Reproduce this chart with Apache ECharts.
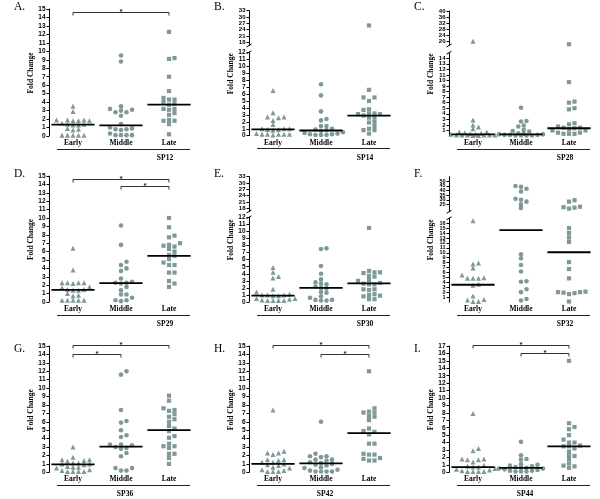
<!DOCTYPE html>
<html><head><meta charset="utf-8">
<script src="https://cdn.jsdelivr.net/npm/echarts@6/dist/echarts.min.js"></script>
<style>html,body{margin:0;padding:0;background:#fff}#c{width:600px;height:499px}</style>
</head><body><div id="c"></div>
<script>
// ---------- DATA ----------
const categories = ['Early', 'Middle', 'Late'];
const panelLetters = ['A.', 'B.', 'C.', 'D.', 'E.', 'F.', 'G.', 'H.', 'I.'];
const panelNames = ['SP12', 'SP14', 'SP28', 'SP29', 'SP30', 'SP32', 'SP36', 'SP42', 'SP44'];
const yTitle = 'Fold Change';

const ticks0to15 = [0,1,2,3,4,5,6,7,8,9,10,11,12,13,14,15];
const ticks0to12 = [0,1,2,3,4,5,6,7,8,9,10,11,12];
const ticks0to17 = [0,1,2,3,4,5,6,7,8,9,10,11,12,13,14,15,16,17];
const sp14UpperTicks = [18,21,24,27,30,33];
const sp28UpperTicks = [20,24,28,32,36,40];
const sp30UpperTicks = [18,21,24,27,30,33];
const sp32UpperTicks = [20,25,30,35,40,45,50,55];

const sp12Early  = [3.5,2.9,1.9,1.9,1.8,1.8,1.8,1.9,1.4,1.3,1.5,1.3,1.4,0.9,0.8,0.7,0.1,0.1,0.1,0.1,0.1];
const sp12Middle = [9.5,8.8,3.5,3.2,3.1,3.0,2.8,2.8,2.4,1.4,1.0,0.9,0.8,0.8,0.7,0.3,0.1,0.1,0.1,0.1];
const sp12Late   = [12.3,9.2,9.1,7.0,5.3,4.5,4.3,4.3,4.0,3.8,3.7,3.2,3.2,3.1,2.7,2.5,1.9,1.8,1.8,1.4,0.2];
const sp12Median = [1.35,1.25,3.7];
const sp12Sig    = [[0,2,14.7]];

const sp14Early  = [6.5,3.3,2.7,2.7,2.6,2.2,1.6,1.0,1.0,1.0,0.9,0.9,0.8,0.3,0.2,0.2,0.2,0.2,0.2,0.1];
const sp14Middle = [7.4,5.8,3.5,2.4,2.2,1.4,1.4,1.0,0.9,0.8,0.7,0.5,0.4,0.3,0.2,0.2,0.1,0.1,0.1];
const sp14Late   = [26,6.6,5.5,5.5,5.0,3.8,3.7,3.2,3.2,3.1,3.1,2.9,2.6,2.6,2.0,1.9,1.4,1.0,0.8,0.8,0.3];
const sp14Median = [0.9,0.75,2.9];
const sp14Sig    = [];

const sp28Early  = [20.3,2.9,2.0,1.6,1.3,0.7,0.7,0.6,0.5,0.4,0.3,0.3,0.2,0.2,0.2,0.2,0.2,0.2,0.1,0.1];
const sp28Middle = [5.1,2.7,2.6,1.9,1.7,1.1,0.9,0.8,0.5,0.4,0.3,0.3,0.2,0.2,0.2,0.1,0.1,0.1,0.1];
const sp28Late   = [18.3,9.7,6.2,6.0,5.0,4.8,2.3,2.1,1.7,1.5,1.5,1.4,1.2,1.0,1.0,0.6,0.6,0.4,0.4,0.4];
const sp28Median = [0.3,0.3,1.4];
const sp28Sig    = [];

const sp29Early  = [6.4,3.8,2.3,2.3,2.3,2.3,2.2,1.8,1.7,1.5,1.5,1.4,1.4,1.0,0.8,0.7,0.2,0.2,0.2,0.2,0.2];
const sp29Middle = [9.1,6.8,4.8,4.4,4.0,3.7,2.8,2.4,2.3,2.3,2.2,1.8,1.4,0.9,0.9,0.5,0.2,0.2,0.1];
const sp29Late   = [10.0,8.9,7.9,7.7,7.0,6.8,6.7,6.6,6.3,6.0,5.6,5.5,5.1,4.7,4.4,4.4,3.5,3.5,2.5,2.2,1.8];
const sp29Median = [1.45,2.25,5.5];
const sp29Sig    = [[0,2,14.7],[1,2,13.8]];

const sp30Early  = [4.9,4.2,3.6,3.4,1.8,1.4,1.1,1.0,1.0,1.0,0.9,0.9,0.5,0.5,0.4,0.3,0.2,0.2,0.2,0.2];
const sp30Middle = [7.6,7.5,5.1,4.0,3.2,2.8,2.6,2.5,2.2,2.0,1.9,1.4,1.3,0.8,0.6,0.3,0.3,0.2,0.2];
const sp30Late   = [10.5,4.4,4.2,4.2,4.1,3.7,3.6,3.1,3.0,2.7,2.6,2.5,2.5,1.8,1.8,1.7,1.1,1.0,0.9,0.8,0.4,0.4];
const sp30Median = [0.9,2.0,2.65];
const sp30Sig    = [];

const sp32Early  = [16.5,7.9,7.7,6.9,5.5,4.9,4.8,4.8,4.8,3.6,3.4,1.2,0.5,0.4,0.1,0.1];
const sp32Middle = [45,44,42,39,31,30,28,25,21,9.7,8.9,7.5,6.2,4.2,4.1,2.6,2.0,0.6,0.3];
const sp32Late   = [29.5,28,22.5,22,21.5,20.5,15.0,14.0,13.1,12.2,8.1,6.7,4.8,2.1,2.0,2.0,1.9,1.8,1.6,0.1];
const sp32Median = [3.5,14.6,10.1];
const sp32Sig    = [];

const sp36Early  = [3.0,1.8,1.5,1.5,1.4,1.3,1.1,1.1,1.0,1.0,0.9,0.7,0.6,0.6,0.5,0.3,0.2,0.1,0.1,0.1,0.1];
const sp36Middle = [12.0,11.6,7.4,6.1,5.9,5.0,4.4,4.2,3.3,3.3,3.2,3.0,2.9,2.8,2.3,1.9,0.5,0.5,0.2,0.2];
const sp36Late   = [9.1,8.5,7.6,7.4,7.3,6.9,6.6,6.3,6.0,5.5,5.2,4.9,4.3,4.1,3.4,3.1,3.1,2.9,2.2,2.2,1.7,1.0];
const sp36Median = [0.95,3.05,5.0];
const sp36Sig    = [[0,2,15.1],[0,1,14.1]];

const sp42Early  = [7.4,2.5,2.3,2.3,2.1,1.5,1.5,1.4,1.2,1.2,1.0,0.9,0.8,0.6,0.5,0.3,0.2,0.1,0.1,0.1];
const sp42Middle = [6.0,2.2,1.9,1.9,1.8,1.5,1.5,1.4,1.2,1.1,1.0,0.9,0.8,0.6,0.5,0.3,0.2,0.1,0.1,0.1,0.1];
const sp42Late   = [12.0,7.6,7.2,7.1,7.1,6.7,6.6,6.2,5.2,4.9,4.8,4.5,3.4,3.4,2.2,2.1,2.1,1.7,1.6,1.4,1.4];
const sp42Median = [1.0,1.05,4.65];
const sp42Sig    = [[0,2,15.1],[1,2,14.1]];

const sp44Early  = [7.9,3.2,2.9,1.8,1.8,1.7,1.7,1.4,0.9,0.8,0.7,0.7,0.5,0.4,0.3,0.2,0.1,0.1,0.1,0.1];
const sp44Middle = [4.1,2.3,1.8,1.7,1.1,1.0,0.9,0.8,0.7,0.6,0.6,0.5,0.5,0.4,0.3,0.2,0.2,0.1,0.1,0.1];
const sp44Late   = [15.0,6.6,6.1,5.8,5.0,4.4,4.0,4.0,3.6,3.5,3.5,3.2,2.8,2.3,2.2,1.8,1.2,0.9,0.8,0.6];
const sp44Median = [0.7,0.6,3.5];
const sp44Sig    = [[0,2,17.1],[1,2,16.1]];

// ---------- PANELS (data refs) ----------
const panels = [
  {groups:[sp12Early,sp12Middle,sp12Late], medians:sp12Median, sig:sp12Sig, lowerTicks:ticks0to15},
  {groups:[sp14Early,sp14Middle,sp14Late], medians:sp14Median, sig:sp14Sig, lowerTicks:ticks0to12, upperTicks:sp14UpperTicks},
  {groups:[sp28Early,sp28Middle,sp28Late], medians:sp28Median, sig:sp28Sig, lowerTicks:ticks0to15, upperTicks:sp28UpperTicks},
  {groups:[sp29Early,sp29Middle,sp29Late], medians:sp29Median, sig:sp29Sig, lowerTicks:ticks0to15},
  {groups:[sp30Early,sp30Middle,sp30Late], medians:sp30Median, sig:sp30Sig, lowerTicks:ticks0to12, upperTicks:sp30UpperTicks},
  {groups:[sp32Early,sp32Middle,sp32Late], medians:sp32Median, sig:sp32Sig, lowerTicks:ticks0to17, upperTicks:sp32UpperTicks},
  {groups:[sp36Early,sp36Middle,sp36Late], medians:sp36Median, sig:sp36Sig, lowerTicks:ticks0to15},
  {groups:[sp42Early,sp42Middle,sp42Late], medians:sp42Median, sig:sp42Sig, lowerTicks:ticks0to15},
  {groups:[sp44Early,sp44Middle,sp44Late], medians:sp44Median, sig:sp44Sig, lowerTicks:ticks0to17}
];

// ---------- LAYOUT ----------
const layout = [
  {ox:0,   oy:0,   row:0, font:6.5, lower:{top:9,    bottom:136,   min:0, max:15}},
  {ox:200, oy:0,   row:0, font:6.5, ufont:6, upper:{top:10.7, bottom:45.5, min:16.5, max:33}, lower:{top:52.3, bottom:135.7, min:0, max:12}},
  {ox:400, oy:0,   row:0, font:6,   ufont:6, upper:{top:11,   bottom:45.5, min:17.5, max:40}, lower:{top:52.7, bottom:136,   min:0, max:15}},
  {ox:0,   oy:165, row:1, font:6.5, lower:{top:11,   bottom:137,   min:0, max:15}},
  {ox:200, oy:165, row:1, font:6.5, ufont:6, upper:{top:11.7, bottom:46.5, min:16.5, max:33}, lower:{top:52.3, bottom:137, min:0, max:12}},
  {ox:400, oy:165, row:1, font:5.5, ufont:5.5, upper:{top:11.7, bottom:46.8, min:17, max:55}, lower:{top:53.3, bottom:137, min:0, max:17}},
  {ox:0,   oy:330, row:2, font:6.5, lower:{top:16,   bottom:142.3, min:0, max:15}},
  {ox:200, oy:330, row:2, font:6.5, lower:{top:16,   bottom:142.3, min:0, max:15}},
  {ox:400, oy:330, row:2, font:6.5, lower:{top:16,   bottom:142.3, min:0, max:17}}
];
const rowLetterY = [7, 8.5, 18.5];
const rowNameX = [165, 165, 125];

const COLOR = '#5f7f80';
const SYMBOLS = ['triangle', 'circle', 'rect'];
const SIZES = [5, 4.6, 4.2];
const GRID_LEFT = 49, GRID_W = 144, XMIN = -0.5, XMAX = 2.5;
const PX_PER_CAT = GRID_W / (XMAX - XMIN);
const SERIF = 'Liberation Serif', SANS = 'Liberation Sans';

const option = {animation:false, backgroundColor:'#fff', grid:[], xAxis:[], yAxis:[], series:[], graphic:[]};

function addGrid(L, seg, ticks, showX, font) {
  const gi = option.grid.length;
  option.grid.push({left:L.ox+GRID_LEFT, top:L.oy+seg.top, width:GRID_W, height:seg.bottom-seg.top});
  option.xAxis.push({type:'value', gridIndex:gi, min:XMIN, max:XMAX, show:showX,
    axisLine:{show:false, onZero:false}, axisTick:{show:false}, splitLine:{show:false},
    axisLabel:{customValues:[0,1,2], formatter:v => categories[Math.round(v)], fontFamily:SERIF,
      fontWeight:'bold', fontSize:7.5, color:'#000', margin:3}});
  option.yAxis.push({type:'value', gridIndex:gi, min:seg.min, max:seg.max, splitLine:{show:false},
    axisLine:{show:true, onZero:false, lineStyle:{color:'#000', width:1}},
    axisTick:{show:true, length:2.5, customValues:ticks, lineStyle:{color:'#000', width:1}},
    axisLabel:{customValues:ticks, fontFamily:SANS, fontWeight:'bold', fontSize:font, color:'#000', margin:3.5}});
  return gi;
}

function segPx(seg, v) {
  return seg.top + (seg.max - v) / (seg.max - seg.min) * (seg.bottom - seg.top);
}

// beeswarm-style horizontal spread computed from the values (pixel collision check)
function swarm(vals, toPx) {
  const order = vals.map((v, i) => i).sort((a, b) => vals[a] - vals[b]);
  const placed = [];
  const off = new Array(vals.length).fill(0);
  const SX = 5.5, SY = 3.6, CAP = 23;
  for (const i of order) {
    const py = toPx(vals[i]);
    let chosen = null, best = -1, bestCand = 0;
    for (let k = 0; k < 60; k++) {
      const cand = k === 0 ? 0 : (k % 2 ? 1 : -1) * Math.ceil(k / 2) * SX / 2;
      if (Math.abs(cand) > CAP) break;
      let minD = Infinity;
      for (const q of placed) {
        if (Math.abs(q.py - py) < SY) minD = Math.min(minD, Math.abs(q.px - cand));
      }
      if (minD >= SX) { chosen = cand; break; }
      if (minD > best) { best = minD; bestCand = cand; }
    }
    if (chosen === null) chosen = bestCand;
    placed.push({py, px:chosen});
    off[i] = chosen / PX_PER_CAT;
  }
  return off;
}

panels.forEach((p, pi) => {
  const L = layout[pi];
  const lowerG = addGrid(L, L.lower, p.lowerTicks, true, L.font);
  let upperG = null;
  if (L.upper) upperG = addGrid(L, L.upper, p.upperTicks, false, L.ufont);

  p.groups.forEach((vals, g) => {
    const toPx = v => (L.upper && v > L.lower.max) ? 1000 + segPx(L.upper, v) : segPx(L.lower, v);
    const off = swarm(vals, toPx);
    const lowPts = [], upPts = [];
    vals.forEach((v, i) => {
      const pt = [g + off[i], v];
      if (L.upper && v > L.lower.max) upPts.push(pt); else lowPts.push(pt);
    });
    const base = {type:'scatter', symbol:SYMBOLS[g], symbolSize:SIZES[g], itemStyle:{color:COLOR}, silent:true, clip:false, z:3};
    option.series.push(Object.assign({}, base, {xAxisIndex:lowerG, yAxisIndex:lowerG, data:lowPts}));
    if (upPts.length) option.series.push(Object.assign({}, base, {xAxisIndex:upperG, yAxisIndex:upperG, data:upPts}));
  });

  // medians
  option.series.push({type:'custom', xAxisIndex:lowerG, yAxisIndex:lowerG, silent:true, z:5,
    data:p.medians.map((m, g) => [g, m]),
    renderItem:(params, api) => {
      const a = api.coord([api.value(0) - 0.45, api.value(1)]);
      const b = api.coord([api.value(0) + 0.45, api.value(1)]);
      return {type:'line', shape:{x1:a[0], y1:a[1], x2:b[0], y2:b[1]}, style:{stroke:'#000', lineWidth:1.8}};
    }});

  // significance brackets
  if (p.sig.length) {
    option.series.push({type:'custom', xAxisIndex:lowerG, yAxisIndex:lowerG, silent:true, z:5, clip:false,
      data:p.sig,
      renderItem:(params, api) => {
        const a = api.coord([api.value(0), api.value(2)]);
        const b = api.coord([api.value(1), api.value(2)]);
        const y = Math.round(a[1]) + 0.5;
        return {type:'group', children:[
          {type:'polyline', shape:{points:[[a[0], y + 3], [a[0], y], [b[0], y], [b[0], y + 3]]},
            style:{stroke:'#333', lineWidth:1, fill:null}},
          {type:'text', style:{text:'*', x:(a[0] + b[0]) / 2, y:y - 0.5, align:'center', verticalAlign:'middle',
            fontSize:8, fontWeight:'bold', fontFamily:SANS, fill:'#222'}}
        ]};
      }});
  }

  // decorations
  const top = L.upper ? L.upper.top : L.lower.top;
  const bottom = L.lower.bottom;
  option.graphic.push({type:'text', x:L.ox + 14, y:L.oy + rowLetterY[L.row],
    style:{text:panelLetters[pi], fontFamily:SERIF, fontSize:11.5, fill:'#000', align:'left', verticalAlign:'middle'}});
  option.graphic.push({type:'text', x:L.ox + 31, y:L.oy + (top + bottom) / 2 + 0.5, rotation:Math.PI / 2,
    style:{text:yTitle, fontFamily:SERIF, fontWeight:'bold', fontSize:7.5, fill:'#000', align:'center', verticalAlign:'middle'}});
  const ly = Math.round(L.oy + bottom + 12.7) + 0.5;
  option.graphic.push({type:'line', shape:{x1:L.ox + 57, y1:ly, x2:L.ox + 190, y2:ly}, style:{stroke:'#222', lineWidth:1}});
  option.graphic.push({type:'text', x:L.ox + rowNameX[L.row], y:L.oy + bottom + 22,
    style:{text:panelNames[pi], fontFamily:SERIF, fontWeight:'bold', fontSize:7.5, fill:'#000', align:'center', verticalAlign:'middle'}});
  if (L.upper) {
    const ax = L.ox + GRID_LEFT;
    const y1 = L.oy + L.upper.bottom, y2 = L.oy + L.lower.top;
    option.graphic.push({type:'line', shape:{x1:ax - 2.5, y1:y1 + 1.5, x2:ax + 2.5, y2:y1 - 1.5}, style:{stroke:'#000', lineWidth:1}});
    option.graphic.push({type:'line', shape:{x1:ax - 2.5, y1:y2 + 1.5, x2:ax + 2.5, y2:y2 - 1.5}, style:{stroke:'#000', lineWidth:1}});
  }
});

const chart = echarts.init(document.getElementById('c'), null, {renderer:'canvas'});
chart.setOption(option);
</script></body></html>
